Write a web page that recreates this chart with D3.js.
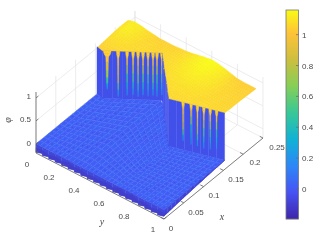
<!DOCTYPE html>
<html>
<head>
<meta charset="utf-8"/>
<title>phi surface</title>
<script src="https://cdnjs.cloudflare.com/ajax/libs/d3/7.8.5/d3.min.js"></script>
<style>
  html, body { margin: 0; padding: 0; background: #fff; }
  svg { display: block; filter: blur(0.35px); }
  text { font-family: "Liberation Sans", sans-serif; font-size: 8px; fill: #4a4a4a; }
</style>
</head>
<body>
<svg id="chart" width="327" height="242"></svg>
<script>
// tick labels
var yTicks = [0, 0.2, 0.4, 0.6, 0.8, 1];
var xTicks = [0, 0.05, 0.1, 0.15, 0.2, 0.25];
var zTicks = [0, 0.5, 1];
var cbTicks = [0, 0.2, 0.4, 0.6, 0.8, 1];

// parula stops
var parulaAt = [0, 0.127, 0.254, 0.38, 0.508, 0.635, 0.762, 0.889, 1];
var parulaCol = ["#3e26a8", "#4752f4", "#2d87f7", "#11b1d6", "#37c897", "#85cf57", "#ccbf3f", "#feC338", "#f9fb15"];

// plateau surface, one row per y, one column per x
var rowY = [0, .05, .1, .15, .2, .25, .3, .35, .4, .45, .5, .55, .6, .65, .7, .75, .8, .85, .9, .95, 1];
var colX = [.11, .13, .15, .17, .19, .21, .2325];
var plateauZ = [
  [1.00, 1.00, 1.00, 1.02, 1.04, 1.06, 1.05],
  [1.00, 1.00, 1.01, 1.03, 1.06, 1.09, 1.09],
  [1.00, 1.00, 1.01, 1.03, 1.05, 1.07, 1.08],
  [1.01, 1.01, 1.02, 1.03, 1.04, 1.05, 1.05],
  [1.01, 1.01, 1.02, 1.03, 1.03, 1.03, 1.03],
  [1.01, 1.01, 1.02, 1.02, 1.03, 1.03, 1.01],
  [1.02, 1.02, 1.02, 1.02, 1.02, 1.02, 1.01],
  [1.02, 1.02, 1.02, 1.02, 1.02, 1.03, 1.01],
  [1.02, 1.02, 1.02, 1.03, 1.03, 1.03, 1.02],
  [1.02, 1.02, 1.03, 1.03, 1.04, 1.04, 1.03],
  [1.02, 1.03, 1.03, 1.04, 1.05, 1.06, 1.05],
  [1.03, 1.03, 1.04, 1.05, 1.07, 1.08, 1.08],
  [1.03, 1.03, 1.04, 1.06, 1.08, 1.10, 1.11],
  [1.03, 1.03, 1.04, 1.06, 1.09, 1.11, 1.13],
  [1.03, 1.03, 1.04, 1.06, 1.08, 1.10, 1.12],
  [1.03, 1.03, 1.04, 1.05, 1.07, 1.08, 1.09],
  [1.03, 1.03, 1.03, 1.04, 1.05, 1.06, 1.05],
  [1.03, 1.03, 1.03, 1.03, 1.03, 1.03, 1.01],
  [1.03, 1.03, 1.03, 1.03, 1.02, 1.02, 1.00],
  [1.03, 1.03, 1.03, 1.02, 1.02, 1.01, 1.00],
  [1.03, 1.03, 1.03, 1.02, 1.02, 1.01, 1.00]
];
// x where the wall stands, one per rowY
var edgeX = [.154, .151, .160, .169, .178, .187, .196, .205, .192, .178, .165, .152, .138, .125, .129, .133, .137, .141, .145, .149, .153];

// thin drips running down the wall
var dripY = [.075, .13, .175, .205, .23, .255, .28, .305, .325, .35, .74, .79, .83, .87, .91, .95];
var dripMid = [.72, .88, .5, .55, .62, .55, .5, .62, .5, .55, .85, .38, .78, .55, .5, .42];
var dripTip = [.2, .05, .08, .1, .06, .1, .08, .1, .08, .12, .2, .16, .16, .14, .16, .2];
var dripHalf = [.02, .0085, .0075, .0075, .0075, .0075, .0075, .0075, .0075, .0075, .0085, .008, .0085, .0085, .0085, .0085];

// floor texture and skirt round the front edges
var floorTone = [.02, .03, .015, .025, .035, .02, .03];
var floorDot = [-.03, 0, -.05, -.02, .01, -.04, -.01, -.06, .01];
var skirtLeftTop = [-.09, -.07, -.1, -.06, -.09, -.05, -.08, -.06, -.1, -.07, -.09, -.05, -.09, -.03, -.08, -.04, -.09, -.06, -.1, -.07, -.08];
var skirtFrontBottom = [-.135, -.125, -.115, -.105, -.095, -.085, -.075, -.07, -.06, -.05, -.045, -.035, -.03, -.02, -.015, -.01, 0];
var skirtFrontTop = [-.06, -.05, -.08, -.03, -.07, -.01, -.06, .0, -.05, .02, -.04, .01, -.02, -.01, -.01, -.005, 0];

var svg = d3.select("#chart");
var origin = [36, 153];

// the three axes each push a point across and down the page
var yAcross = d3.scaleLinear([0, 1], [0, 128]), yDown = d3.scaleLinear([0, 1], [0, 66]);
var xAcross = d3.scaleLinear([0, .25], [0, 99]), xDown = d3.scaleLinear([0, .25], [0, -81]);
var zDown = d3.scaleLinear([-.2, 1.13], [0, -61]);

function proj(y, x, z) {
  return [origin[0] + yAcross(y) + xAcross(x), origin[1] + yDown(y) + xDown(x) + zDown(z)];
}

var parula = d3.scaleLinear().domain(parulaAt).range(parulaCol).interpolate(d3.interpolateRgb).clamp(true);
var cbValue = d3.scaleLinear([-.195, 1.16], [0, 1]);
function col(z) { return parula(cbValue(z)); }

var line = d3.line();
function quad(g, pts, c) {
  g.append("path").attr("d", line(pts) + "Z").attr("fill", c).attr("stroke", c).attr("stroke-width", .4);
}

// grid on the two back walls and the floor
var grid = svg.append("g").attr("stroke", "#e4e4e4").attr("stroke-width", .7).attr("fill", "none");
function seg(g, a, b) { g.append("line").attr("x1", a[0]).attr("y1", a[1]).attr("x2", b[0]).attr("y2", b[1]); }
xTicks.forEach(function(x) {
  seg(grid, proj(0, x, -.2), proj(0, x, 1.13));
  seg(grid, proj(0, x, -.2), proj(1, x, -.2));
});
yTicks.forEach(function(y) {
  seg(grid, proj(y, .25, -.2), proj(y, .25, 1.13));
  seg(grid, proj(y, 0, -.2), proj(y, .25, -.2));
});
zTicks.forEach(function(z) {
  seg(grid, proj(0, 0, z), proj(0, .25, z));
  seg(grid, proj(0, .25, z), proj(1, .25, z));
});

var surf = svg.append("g");
var edgeAt = d3.scaleLinear(rowY, edgeX);

// floor first, nothing ever hides behind it
var floorRows = d3.range(0, 1.0001, 1 / 32);
floorRows.slice(0, -1).forEach(function(y0, i) {
  var y1 = floorRows[i + 1];
  var e0 = edgeAt(y0), e1 = edgeAt(y1);
  var steps = 15;
  for (var j = steps - 1; j >= 0; j--) {
    var x00 = e0 * j / steps, x01 = e0 * (j + 1) / steps;
    var x10 = e1 * j / steps, x11 = e1 * (j + 1) / steps;
    quad(surf, [proj(y0, x00, 0), proj(y0, x01, 0), proj(y1, x11, 0), proj(y1, x10, 0)], col(floorTone[(i * 3 + j * 2) % floorTone.length]));
    // the little dark pit in each cell
    var ya = y0 + (y1 - y0) * .38, yb = y0 + (y1 - y0) * .62;
    var xa = x00 + (x01 - x00) * .38, xb = x00 + (x01 - x00) * .62;
    surf.append("path").attr("d", line([proj(ya, xa, 0), proj(ya, xb, 0), proj(yb, xb, 0), proj(yb, xa, 0)]) + "Z")
      .attr("fill", col(floorDot[(i * 5 + j * 4) % floorDot.length]));
  }
});

// front skirt on the x = 0 side
var wallBlue = "#4250ea", skirtDark = "#423ecb";
rowY.slice(0, -1).forEach(function(y0, i) {
  var y1 = rowY[i + 1];
  quad(surf, [proj(y0, 0, 0), proj(y1, 0, 0), proj(y1, 0, -.14), proj(y0, 0, -.18)], "#4048dc");
  quad(surf, [proj(y0, 0, skirtLeftTop[i]), proj(y1, 0, skirtLeftTop[i + 1]), proj(y1, 0, -.14), proj(y0, 0, -.18)], skirtDark);
});
// front skirt on the y = 1 side
var frontX = d3.range(0, .1531, .153 / 16);
frontX.slice(0, -1).forEach(function(x0, i) {
  var x1 = frontX[i + 1];
  quad(surf, [proj(1, x0, 0), proj(1, x1, 0), proj(1, x1, skirtFrontBottom[i + 1]), proj(1, x0, skirtFrontBottom[i])], "#4048dc");
  var mid = (x0 + x1) / 2;
  quad(surf, [proj(1, x0, skirtFrontBottom[i]), proj(1, mid, skirtFrontTop[i]), proj(1, x1, skirtFrontBottom[i + 1])], skirtDark);
});

// plateau reads a touch warmer than its height alone gives
var plateauTint = .035;
var sub = d3.range(0, 1.001, 1 / 3);

// plateau and wall, back row first
rowY.slice(0, -1).forEach(function(y0, r) {
  var y1 = rowY[r + 1];
  var e0 = edgeX[r], e1 = edgeX[r + 1];
  for (var j = colX.length - 2; j >= 0; j--) {
    var a0 = Math.max(colX[j], e0), b0 = Math.max(colX[j + 1], e0);
    var a1 = Math.max(colX[j], e1), b1 = Math.max(colX[j + 1], e1);
    if (b0 <= e0 && b1 <= e1) continue;
    var z00 = plateauZ[r][j], z01 = plateauZ[r][j + 1], z10 = plateauZ[r + 1][j], z11 = plateauZ[r + 1][j + 1];
    // split each table cell so the shading does not show the table
    var corner = function(s, t) {
      var zs = (z00 * (1 - t) + z01 * t) * (1 - s) + (z10 * (1 - t) + z11 * t) * s;
      var xs = (a0 * (1 - t) + b0 * t) * (1 - s) + (a1 * (1 - t) + b1 * t) * s;
      return {y: y0 + (y1 - y0) * s, x: xs, z: zs};
    };
    for (var b = sub.length - 2; b >= 0; b--) {
      for (var a = 0; a < sub.length - 1; a++) {
        var p = [corner(sub[a], sub[b]), corner(sub[a], sub[b + 1]), corner(sub[a + 1], sub[b + 1]), corner(sub[a + 1], sub[b])];
        quad(surf, p.map(function(d) { return proj(d.y, d.x, d.z); }), col(d3.mean(p, function(d) { return d.z; }) + plateauTint));
      }
    }
  }
  quad(surf, [proj(y0, e0, 0), proj(y1, e1, 0), proj(y1, e1, 1.03), proj(y0, e0, 1.03)], wallBlue);
});

// drips in front of the wall, a short yellow tooth then a long thin thread
var dripSteps = [0, .08, .16, .3, .5, .7, .85, 1];
var dripWidth = [1, .8, .35, .3, .26, .22, .15, 0];
dripY.forEach(function(y, i) {
  var top = 1.04, tip = dripTip[i], hw = dripHalf[i];
  var shade = d3.scaleLinear([0, .18, .6, 1], [1.05, 1.03, dripMid[i], .2]);
  dripSteps.slice(0, -1).forEach(function(t0, k) {
    var t1 = dripSteps[k + 1];
    var za = top + (tip - top) * t0, zb = top + (tip - top) * t1;
    var wa = hw * dripWidth[k], wb = hw * dripWidth[k + 1];
    quad(surf, [proj(y - wa, edgeAt(y - wa), za), proj(y + wa, edgeAt(y + wa), za),
                proj(y + wb, edgeAt(y + wb), zb), proj(y - wb, edgeAt(y - wb), zb)], col(shade((t0 + t1) / 2)));
  });
});

// axis lines, ticks and labels
var axis = svg.append("g").attr("stroke", "#666").attr("stroke-width", .8).attr("fill", "none");
seg(axis, proj(0, 0, -.2), proj(1, 0, -.2));
seg(axis, proj(1, 0, -.2), proj(1, .25, -.2));
seg(axis, proj(0, 0, -.2), proj(0, 0, 1.13));

function label(p, s, anchor) {
  svg.append("text").attr("x", p[0]).attr("y", p[1]).attr("text-anchor", anchor || "middle").text(s);
}
yTicks.forEach(function(y) {
  seg(axis, proj(y, 0, -.2), proj(y, .006, -.2));
});
var yLabelPos = [[27, 167], [49, 180], [74, 193], [99, 206], [124, 219], [153, 232]];
yTicks.forEach(function(y, i) { label(yLabelPos[i], String(y)); });
xTicks.forEach(function(x) {
  seg(axis, proj(1, x, -.2), proj(.975, x, -.2));
});
var xLabelPos = [[171, 231], [196, 215], [214, 198], [236, 182], [255, 165], [277, 150]];
xTicks.forEach(function(x, i) { label(xLabelPos[i], String(x)); });
zTicks.forEach(function(z) {
  seg(axis, proj(0, 0, z), proj(0, .006, z));
});
var zLabelPos = [[31, 146], [31, 122], [31, 99]];
zTicks.forEach(function(z, i) { label(zLabelPos[i], String(z), "end"); });

function axisTitle(x, y, s, rot) {
  var t = svg.append("text").attr("x", x).attr("y", y).attr("text-anchor", "middle")
    .style("font-family", "'Liberation Serif', serif").style("font-style", "italic").style("font-size", "10px").text(s);
  if (rot) t.attr("transform", "rotate(-90," + x + "," + y + ")");
}
axisTitle(102, 225, "y");
axisTitle(222, 220, "x");
axisTitle(11, 120, "\u03c6", true);

// colorbar
var cbY = d3.scaleLinear([-.195, 1.16], [219, 10]);
var cb = svg.append("g");
d3.range(10, 219).forEach(function(py) {
  cb.append("rect").attr("x", 286).attr("y", py).attr("width", 12.5).attr("height", 1.2)
    .attr("fill", col(cbY.invert(py + .5)));
});
cb.append("rect").attr("x", 286).attr("y", 10).attr("width", 12.5).attr("height", 209)
  .attr("fill", "none").attr("stroke", "#777").attr("stroke-width", .8);
cbTicks.forEach(function(v) {
  cb.append("line").attr("x1", 296).attr("x2", 298.5).attr("y1", cbY(v)).attr("y2", cbY(v)).attr("stroke", "#666").attr("stroke-width", .7);
  label([302, cbY(v) + 3], String(v), "start");
});
</script>
</body>
</html>
